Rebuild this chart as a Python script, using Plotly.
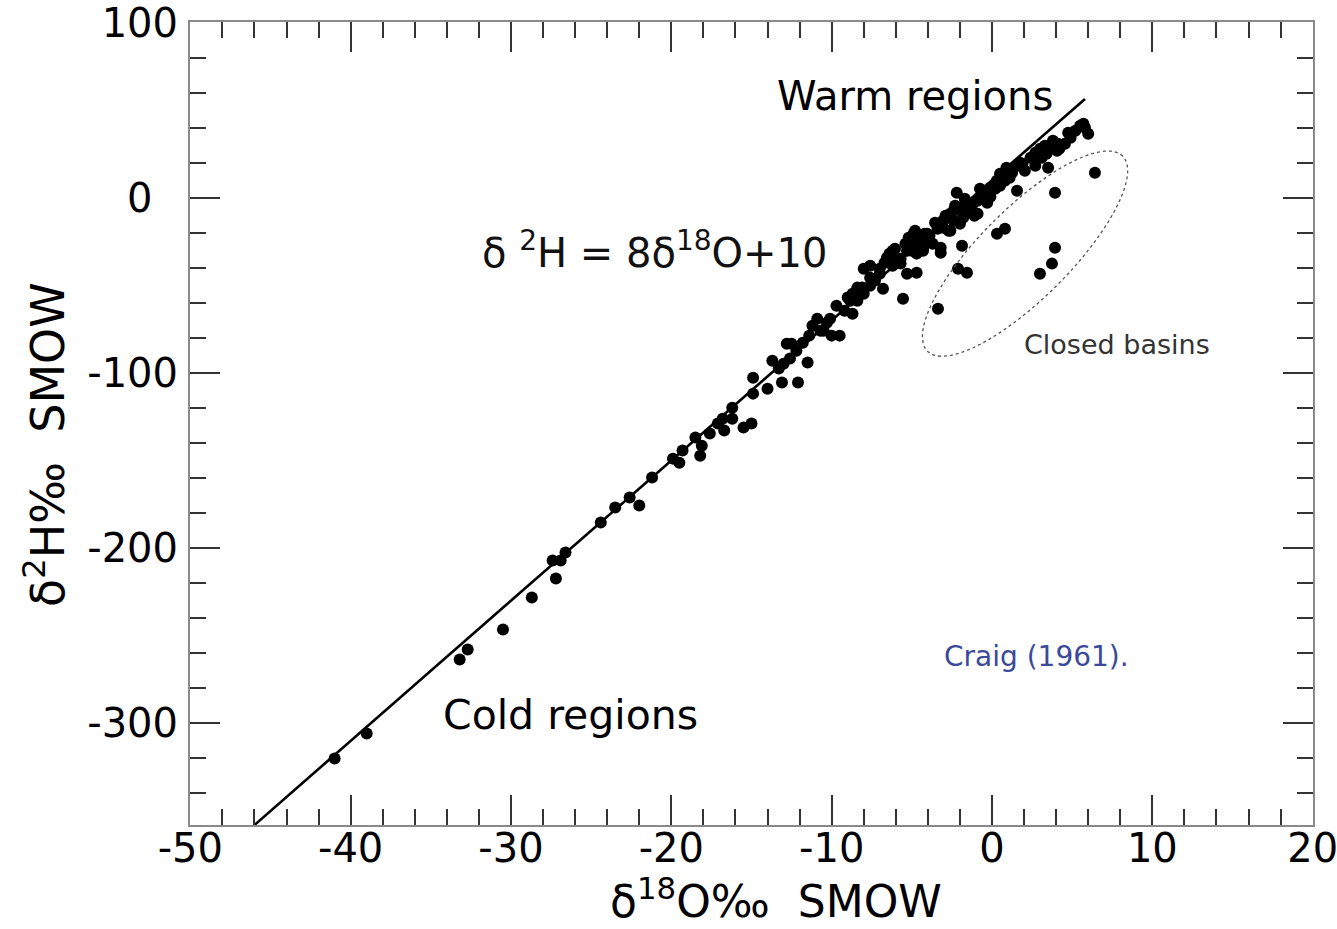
import numpy as np
import plotly.graph_objects as go

# --- data (δ18O ‰, δ2H ‰ SMOW) ---
meteoric_o18 = [
    -41.0, -39.0, -33.2, -32.7, -30.5, -28.7, -27.2, -27.4, -26.9, -26.6,
    -24.4, -23.5, -22.6, -22.0, -21.2, -19.9, -19.3, -19.5, -18.5, -18.2,
    -18.1, -17.6, -17.1, -16.7, -16.8, -16.2, -16.2, -15.5, -15.0, -14.9,
    -14.9, -14.0, -13.7, -13.3, -13.1, -12.1, -12.5, -12.2, -11.8, -11.5,
    -11.4, -10.7, -12.8, -12.6, -13.0, -10.9, -10.5, -10.1, -10.0, -9.5,
    -9.7, -9.0, -8.7, -8.4, -8.0, -8.1, -7.6, -7.3, -7.0, -7.0,
    -6.8, -6.4, -6.4, -6.2, -5.9, -5.7, -5.55, -5.3, -5.3, -5.0,
    -4.9, -4.7, -4.7, -4.3, -4.05, -3.9, -3.7, -3.4, -3.2, -3.05,
    -2.7, -2.4, -2.0, -1.8, -1.4, -0.9, -0.3, 5.8, 6.0, 5.7,
    5.5, 4.9, 4.55, 4.2, 3.8, 3.6, 3.4, 3.5, 3.1, 2.7,
    2.4, 1.9, 1.6, 0.9, 1.1, 0.5, 0.3, -0.1, -0.6, -0.9,
    -2.2, -2.0, -1.4, -1.1, -2.6, -1.8, -2.4, -3.05, -2.6, -2.0,
    -3.9, -4.3, -5.2, -4.9, -4.7, -3.2, -6.2, -5.7, -6.55, -7.6,
    -8.4, -8.0, -8.85, -8.7, 4.05, 1.75, -0.75, -1.2, -4.2, -7.6,
    -6.7, -6.05, -5.4, -4.8, -4.5, -3.55, -2.9, -2.3, -1.7, -0.1,
    0.2, 0.5, 0.8, 1.25, 2.05, 2.7, 3.0, 3.3, 4.1, 4.75,
    5.2, -11.2, -10.3, -9.2,
]
meteoric_h2 = [
    -320.0, -305.8, -263.5, -257.8, -246.4, -228.2, -217.3, -207.1, -207.1, -202.5,
    -185.4, -176.8, -171.1, -175.7, -159.7, -148.9, -144.3, -151.2, -136.9, -147.2,
    -141.5, -134.6, -128.9, -132.9, -126.1, -119.8, -126.1, -131.2, -128.9, -102.7,
    -111.8, -109.0, -93.0, -97.5, -105.5, -105.5, -83.3, -87.3, -82.7, -94.1,
    -78.7, -75.9, -83.3, -91.8, -94.7, -69.0, -75.9, -69.0, -78.7, -78.7,
    -61.6, -57.0, -54.8, -58.8, -40.5, -51.3, -50.2, -47.3, -43.4, -40.5,
    -51.9, -34.2, -31.9, -38.8, -35.9, -37.6, -57.6, -30.2, -43.4, -30.2,
    -20.5, -22.8, -42.8, -30.2, -20.5, -21.7, -26.2, -17.7, -31.4, -13.1,
    -18.8, -7.4, -6.3, -9.1, -3.4, -9.1, -2.9, 39.9, 36.5, 42.2,
    41.1, 34.2, 30.8, 28.0, 32.5, 28.5, 25.1, 17.1, 22.8, 25.7,
    22.8, 19.4, 18.3, 17.1, 11.4, 13.7, 9.7, 5.7, 2.3, -1.7,
    2.9, -5.7, -7.4, -10.3, -9.1, -11.4, -13.1, -17.1, -18.8, -14.8,
    -24.5, -28.5, -22.8, -26.2, -31.9, -28.5, -30.2, -34.8, -34.2, -45.6,
    -51.3, -54.8, -58.8, -66.2, 26.8, 20.0, 5.1, -3.4, -20.5, -38.8,
    -37.1, -29.1, -26.2, -18.8, -24.5, -14.3, -10.3, -4.6, -0.6, 0.6,
    5.1, 6.8, 9.7, 14.3, 15.4, 18.3, 28.0, 29.7, 30.8, 37.1,
    38.2, -73.0, -71.3, -64.5,
]
basin_o18 = [-1.87, -1.56, -2.12, -3.37, 0.31, 0.81, 6.42, 3.93, 2.99, 3.74, 3.93, 1.56]
basin_h2 = [-27.4, -42.8, -40.5, -63.3, -20.5, -17.7, 14.3, 2.9, -43.4, -37.6, -28.5, 4.0]

# Global meteoric water line: δ2H = 8 δ18O + 10
gmwl_slope = 8.0
gmwl_intercept = 10.0
gmwl_o18 = [-46.0, 5.8]

x_ticks = [-50, -40, -30, -20, -10, 0, 10, 20]
x_tick_text = ["-50", "-40", "-30", "-20", "-10", "0", "10", "20"]
y_ticks = [100, 0, -100, -200, -300]
y_tick_text = ["100", "0\u00a0\u00a0", "-100", "-200", "-300"]

FONT = "DejaVu Sans"

# --- figure geometry ---
W, H = 1337, 929
ml, mr, mt, mb = 190, 24, 22, 104
x_range = [-50.02, 20.02]
y_range = [-358.0, 100.3]
px_x = (W - ml - mr) / (x_range[1] - x_range[0])
px_y = (H - mt - mb) / (y_range[1] - y_range[0])

fig = go.Figure()

gmwl_h2 = [gmwl_slope * v + gmwl_intercept for v in gmwl_o18]
fig.add_trace(go.Scatter(x=gmwl_o18, y=gmwl_h2, mode="lines",
                         line=dict(color="black", width=2.6),
                         hoverinfo="skip", showlegend=False))

marker = dict(color="black", size=12, line=dict(width=0))
fig.add_trace(go.Scatter(x=meteoric_o18, y=meteoric_h2, mode="markers",
                         marker=marker, showlegend=False))
fig.add_trace(go.Scatter(x=basin_o18, y=basin_h2, mode="markers",
                         marker=marker, showlegend=False))

# dotted ellipse around the closed basins (axes given in screen pixels)
ell_cx, ell_cy = 2.06, -31.9    # data units
ell_a, ell_b, ell_ang = 138.0, 45.0, np.deg2rad(45.0)
t = np.linspace(0, 2 * np.pi, 120)
ex = ell_cx + (ell_a * np.cos(t) * np.cos(ell_ang) - ell_b * np.sin(t) * np.sin(ell_ang)) / px_x
ey = ell_cy + (ell_a * np.cos(t) * np.sin(ell_ang) + ell_b * np.sin(t) * np.cos(ell_ang)) / px_y
path = "M " + " L ".join(f"{a:.4f},{b:.4f}" for a, b in zip(ex, ey)) + " Z"
fig.add_shape(type="path", path=path, xref="x", yref="y",
              line=dict(color="#555555", width=1.3, dash="dot"))

ann = [
    dict(text="Warm regions", x=-4.8, y=58, size=40, color="black"),
    dict(text="δ <sup>2</sup>H = 8δ<sup>18</sup>O+10", x=-21.0, y=-30, size=40, color="#111111"),
    dict(text="Cold regions", x=-26.3, y=-295, size=41, color="black"),
    dict(text="Closed basins", x=7.8, y=-84, size=27, color="#333333"),
    dict(text="Craig (1961).", x=2.8, y=-262, size=28, color="#3b4a9b"),
]
for a in ann:
    fig.add_annotation(x=a["x"], y=a["y"], xref="x", yref="y", text=a["text"],
                       showarrow=False, xanchor="center", yanchor="middle",
                       font=dict(family=FONT, size=a["size"], color=a["color"]))

# axis titles
fig.add_annotation(x=(776 - ml) / (W - ml - mr), y=-(899 - (H - mb)) / (H - mt - mb),
                   xref="paper", yref="paper", showarrow=False,
                   xanchor="center", yanchor="middle",
                   text="δ<sup>18</sup>O‰  SMOW",
                   font=dict(family=FONT, size=44, color="black"))
fig.add_annotation(x=-(ml - 45) / (W - ml - mr), y=((H - mb) - 445) / (H - mt - mb),
                   xref="paper", yref="paper", showarrow=False, textangle=-90,
                   xanchor="center", yanchor="middle",
                   text="δ<sup>2</sup>H‰  SMOW",
                   font=dict(family=FONT, size=46, color="black"))

axis_common = dict(
    showgrid=False, zeroline=False,
    showline=True, linecolor="#8a8a8a", linewidth=2, mirror="ticks",
    ticks="inside", ticklen=30, tickwidth=2, tickcolor="#333333",
    tickfont=dict(family=FONT, size=40, color="black"),
    ticklabeloverflow="allow",
)

fig.update_xaxes(
    range=x_range, tickmode="array", tickvals=x_ticks, ticktext=x_tick_text,
    minor=dict(ticks="inside", ticklen=16, tickwidth=2, tickcolor="#333333", dtick=2, tick0=0),
    ticklabelstandoff=-13,
    **axis_common,
)
fig.update_yaxes(
    range=y_range, tickmode="array", tickvals=y_ticks, ticktext=y_tick_text,
    minor=dict(ticks="inside", ticklen=16, tickwidth=2, tickcolor="#333333", dtick=20, tick0=0),
    ticklabelstandoff=2,
    **axis_common,
)

fig.update_layout(
    width=W, height=H,
    margin=dict(l=ml, r=mr, t=mt, b=mb, autoexpand=False),
    paper_bgcolor="white", plot_bgcolor="white",
    showlegend=False,
)

fig.write_html("out.html")
